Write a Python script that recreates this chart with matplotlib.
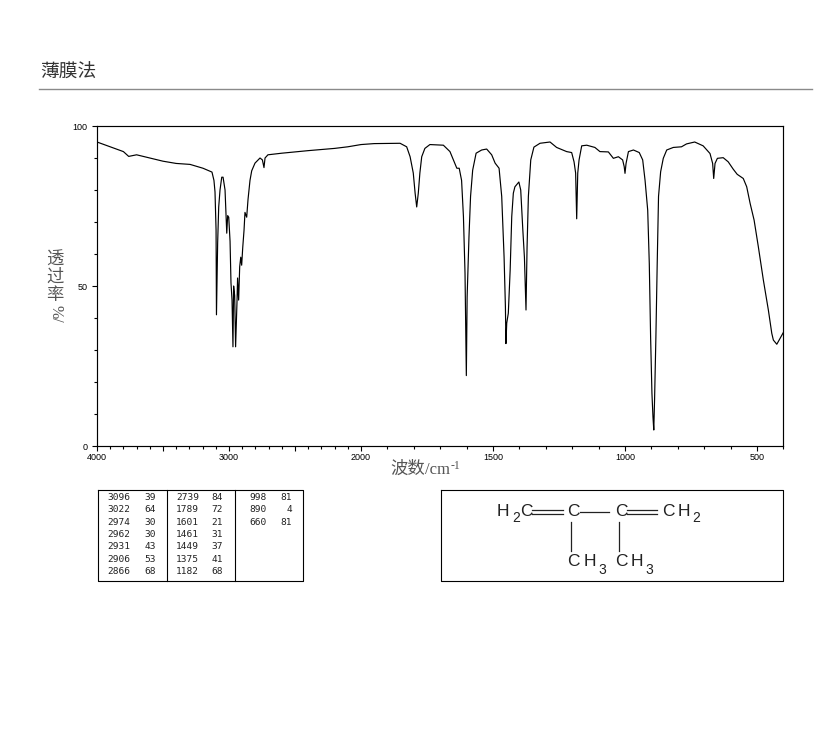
import numpy as np
import matplotlib
matplotlib.use('Agg')
import matplotlib.pyplot as plt
from matplotlib.ticker import FixedLocator, FixedFormatter

# Espectro IR: numero de onda (cm-1) y transmitancia (%)
onda = [4000, 3900, 3800, 3760, 3700, 3600, 3500, 3400, 3295, 3197, 3129, 3114, 3106, 3098, 3095,
        3086, 3078, 3068, 3055, 3045, 3030, 3023, 3017, 3010, 3002, 2992, 2985, 2977, 2970, 2965,
        2957, 2950, 2939, 2935, 2927, 2919, 2911, 2904, 2896, 2886, 2879, 2866, 2856, 2841, 2828,
        2803, 2765, 2747, 2735, 2727, 2705, 2600, 2400, 2200, 2100, 2000, 1950, 1852, 1827, 1814,
        1802, 1795, 1789, 1783, 1777, 1770, 1758, 1739, 1688, 1663, 1650, 1637, 1628, 1619, 1612,
        1606, 1601, 1598, 1591, 1585, 1577, 1564, 1543, 1524, 1505, 1492, 1477, 1467, 1458, 1453,
        1451, 1448, 1442, 1435, 1429, 1423, 1417, 1402, 1395, 1387, 1381, 1375, 1371, 1366, 1357,
        1345, 1322, 1284, 1259, 1221, 1202, 1193, 1187, 1183, 1179, 1174, 1164, 1145, 1114, 1095,
        1063, 1044, 1025, 1009, 1003, 1000, 996, 987, 968, 946, 933, 924, 914, 908, 903,
        898, 894, 891, 888, 883, 878, 873, 865, 855, 842, 817, 786, 767, 736, 704,
        678, 668, 664, 659, 650, 628, 609, 590, 575, 552, 539, 526, 511, 495, 476,
        457, 444, 438, 425, 413, 404, 400]
transmitancia = [95, 93.5, 92, 90.5, 91, 90, 89, 88.3, 88, 86.8, 85.6, 83, 79.4, 67.5, 41,
                 63.4, 74.7, 80, 84, 84, 80, 72.8, 66.5, 72, 71.5, 64, 51, 45.6, 31, 50,
                 47, 31, 45.6, 52.5, 45.6, 56, 59, 56.5, 62, 67.5, 73, 71.5, 77, 83, 86,
                 88.4, 90, 89.4, 87, 90, 91, 91.5, 92.3, 93, 93.5, 94.2, 94.5, 94.6, 93.5, 90.4,
                 85.3, 79, 74.7, 79, 85.3, 90.4, 93, 94.2, 94, 92, 89.4, 86.8, 86.8, 83, 71.7,
                 54, 22, 46.6, 65.4, 78, 86.2, 91.5, 92.5, 92.8, 91, 88.4, 86.8, 78, 59, 43.5,
                 32, 38.4, 41.5, 55, 71.7, 79, 81, 82.5, 80, 67.5, 59, 42.5, 62, 78, 89.4,
                 93.4, 94.6, 95, 93.3, 92, 91.7, 88.8, 85.3, 71, 85.3, 89.4, 93.8, 94, 93.3, 92,
                 91.9, 89.9, 90.4, 89.4, 87.3, 85.2, 88.3, 92, 92.5, 91.7, 89.4, 83, 73.7, 57, 34,
                 16.5, 9, 5, 14.4, 34, 57, 78, 85.7, 89.9, 92.5, 93.3, 93.5, 94.4, 95, 93.8,
                 91.4, 88.3, 83.6, 88.3, 89.9, 90.1, 88.8, 86.5, 84.9, 83.6, 81, 75.8, 70.6, 62.3, 51.9,
                 42.5, 35.2, 33.1, 31.8, 33.6, 35, 35.5]

# Tabla de picos
pico_onda = ['3096', '3022', '2974', '2962', '2931', '2906', '2866',
             '2739', '1789', '1601', '1461', '1449', '1375', '1182',
             '998', '890', '660']
pico_t = ['39', '64', '30', '30', '43', '53', '68',
          '84', '72', '21', '31', '37', '41', '68',
          '81', '4', '81']

y_etiquetas = [0, 50, 100]

# Eje x con escala doble por debajo de 2000
def adelante(w):
    w = np.asarray(w, dtype=float)
    return np.where(w >= 2000, w, 2 * w - 2000)

def inversa(p):
    p = np.asarray(p, dtype=float)
    return np.where(p >= 2000, p, (p + 2000) / 2)

W, H = 822, 737
fig = plt.figure(figsize=(W / 100, H / 100), dpi=100, facecolor='white')

# Capa en pixeles para titulo, tablas y formula
capa = fig.add_axes([0, 0, 1, 1])
capa.set_xlim(0, W)
capa.set_ylim(H, 0)
capa.axis('off')

cjk = ['Noto Sans CJK SC', 'DejaVu Sans']
gris = '#555555'
capa.text(40, 72.5, '薄膜法', family=cjk, fontsize=13.5, color='#333333', ha='left', va='center')
capa.plot([39, 812], [88.5, 88.5], color='#8a8a8a', lw=1)

# Etiqueta vertical del eje y
for yy, ch in zip([260, 277, 295], '透过率'):
    capa.text(55, yy, ch, family=cjk, fontsize=12.5, color=gris, ha='center', va='center')
capa.text(55, 314, '%/', family='Liberation Serif', fontsize=11.5, color=gris, rotation=-90,
          ha='center', va='center')

# Etiqueta del eje x
capa.text(390, 469, '波数', family=cjk, fontsize=12.5, color=gris, ha='left', va='center')
capa.text(425, 470, '/cm', family='Liberation Serif', fontsize=12, color=gris, ha='left', va='center')
capa.text(451, 466, '-1', family='Liberation Serif', fontsize=8.5, color=gris, ha='left', va='center')

# Espectro
ax = fig.add_axes([97 / W, 1 - 446 / H, 686.4 / W, 320 / H])
ax.patch.set_alpha(0)
ax.set_xscale('function', functions=(adelante, inversa))
ax.plot(onda, transmitancia, color='black', lw=0.85)
ax.set_xlim(4000, 400)
ax.set_ylim(0, 100)

ax.xaxis.set_major_locator(FixedLocator(list(range(500, 4001, 500))))
ax.xaxis.set_major_formatter(FixedFormatter(['500', '1000', '1500', '2000', '', '3000', '', '4000']))
ax.xaxis.set_minor_locator(FixedLocator(list(range(400, 4001, 100))))
ax.yaxis.set_major_locator(FixedLocator(y_etiquetas))
ax.yaxis.set_major_formatter(FixedFormatter([str(v) for v in y_etiquetas]))
ax.yaxis.set_minor_locator(FixedLocator(list(range(0, 101, 10))))
ax.tick_params(axis='both', which='major', length=3.8, width=0.8, labelsize=6.5)
ax.tick_params(axis='both', which='minor', length=1.9, width=0.8)
ax.tick_params(axis='x', which='major', pad=1)
ax.tick_params(axis='y', which='major', pad=3)
for t in ax.get_xticklabels() + ax.get_yticklabels():
    t.set_family('Liberation Sans')
for s in ax.spines.values():
    s.set_linewidth(0.85)

# Tabla de picos
capa.plot([97.5, 303, 303, 97.5, 97.5], [489.5, 489.5, 581, 581, 489.5], color='black', lw=0.8)
capa.plot([166.5, 166.5], [489.5, 581], color='black', lw=0.8)
capa.plot([234.5, 234.5], [489.5, 581], color='black', lw=0.8)
col_onda = [130, 199, 267]
col_t = [156, 223, 292]
for i in range(len(pico_onda)):
    c = i // 7
    fila = i % 7
    yy = 497.5 + fila * 12.3
    capa.text(col_onda[c], yy, pico_onda[i], family='DejaVu Sans Mono', fontsize=6.8,
              ha='right', va='center', color='#222222')
    capa.text(col_t[c], yy, pico_t[i], family='DejaVu Sans Mono', fontsize=6.8,
              ha='right', va='center', color='#222222')

# Formula
capa.plot([440.5, 782.5, 782.5, 440.5, 440.5], [489.5, 489.5, 581, 581, 489.5], color='black', lw=0.8)
letra = dict(family='Liberation Sans', fontsize=12.5, color='#222222', ha='center', va='center')
sub = dict(family='Liberation Sans', fontsize=10, color='#222222', ha='center', va='center')
for xx, ch in [(503, 'H'), (526.5, 'C'), (573, 'C'), (621, 'C'), (668.5, 'C'), (684, 'H')]:
    capa.text(xx, 511.5, ch, **letra)
capa.text(516, 518.5, '2', **sub)
capa.text(696.5, 518.5, '2', **sub)
for xx, ch in [(573, 'C'), (589.5, 'H'), (621, 'C'), (636.5, 'H')]:
    capa.text(xx, 562, ch, **letra)
capa.text(602, 570, '3', **sub)
capa.text(649, 570, '3', **sub)
for yy in [509.5, 513.5]:
    capa.plot([532, 563], [yy, yy], color='#222222', lw=0.9)
    capa.plot([627, 657], [yy, yy], color='#222222', lw=0.9)
capa.plot([580, 609], [511.5, 511.5], color='#222222', lw=0.9)
capa.plot([570.5, 570.5], [522, 551], color='#222222', lw=0.9)
capa.plot([618.5, 618.5], [522, 551], color='#222222', lw=0.9)

fig.savefig('out.png', dpi=100)
